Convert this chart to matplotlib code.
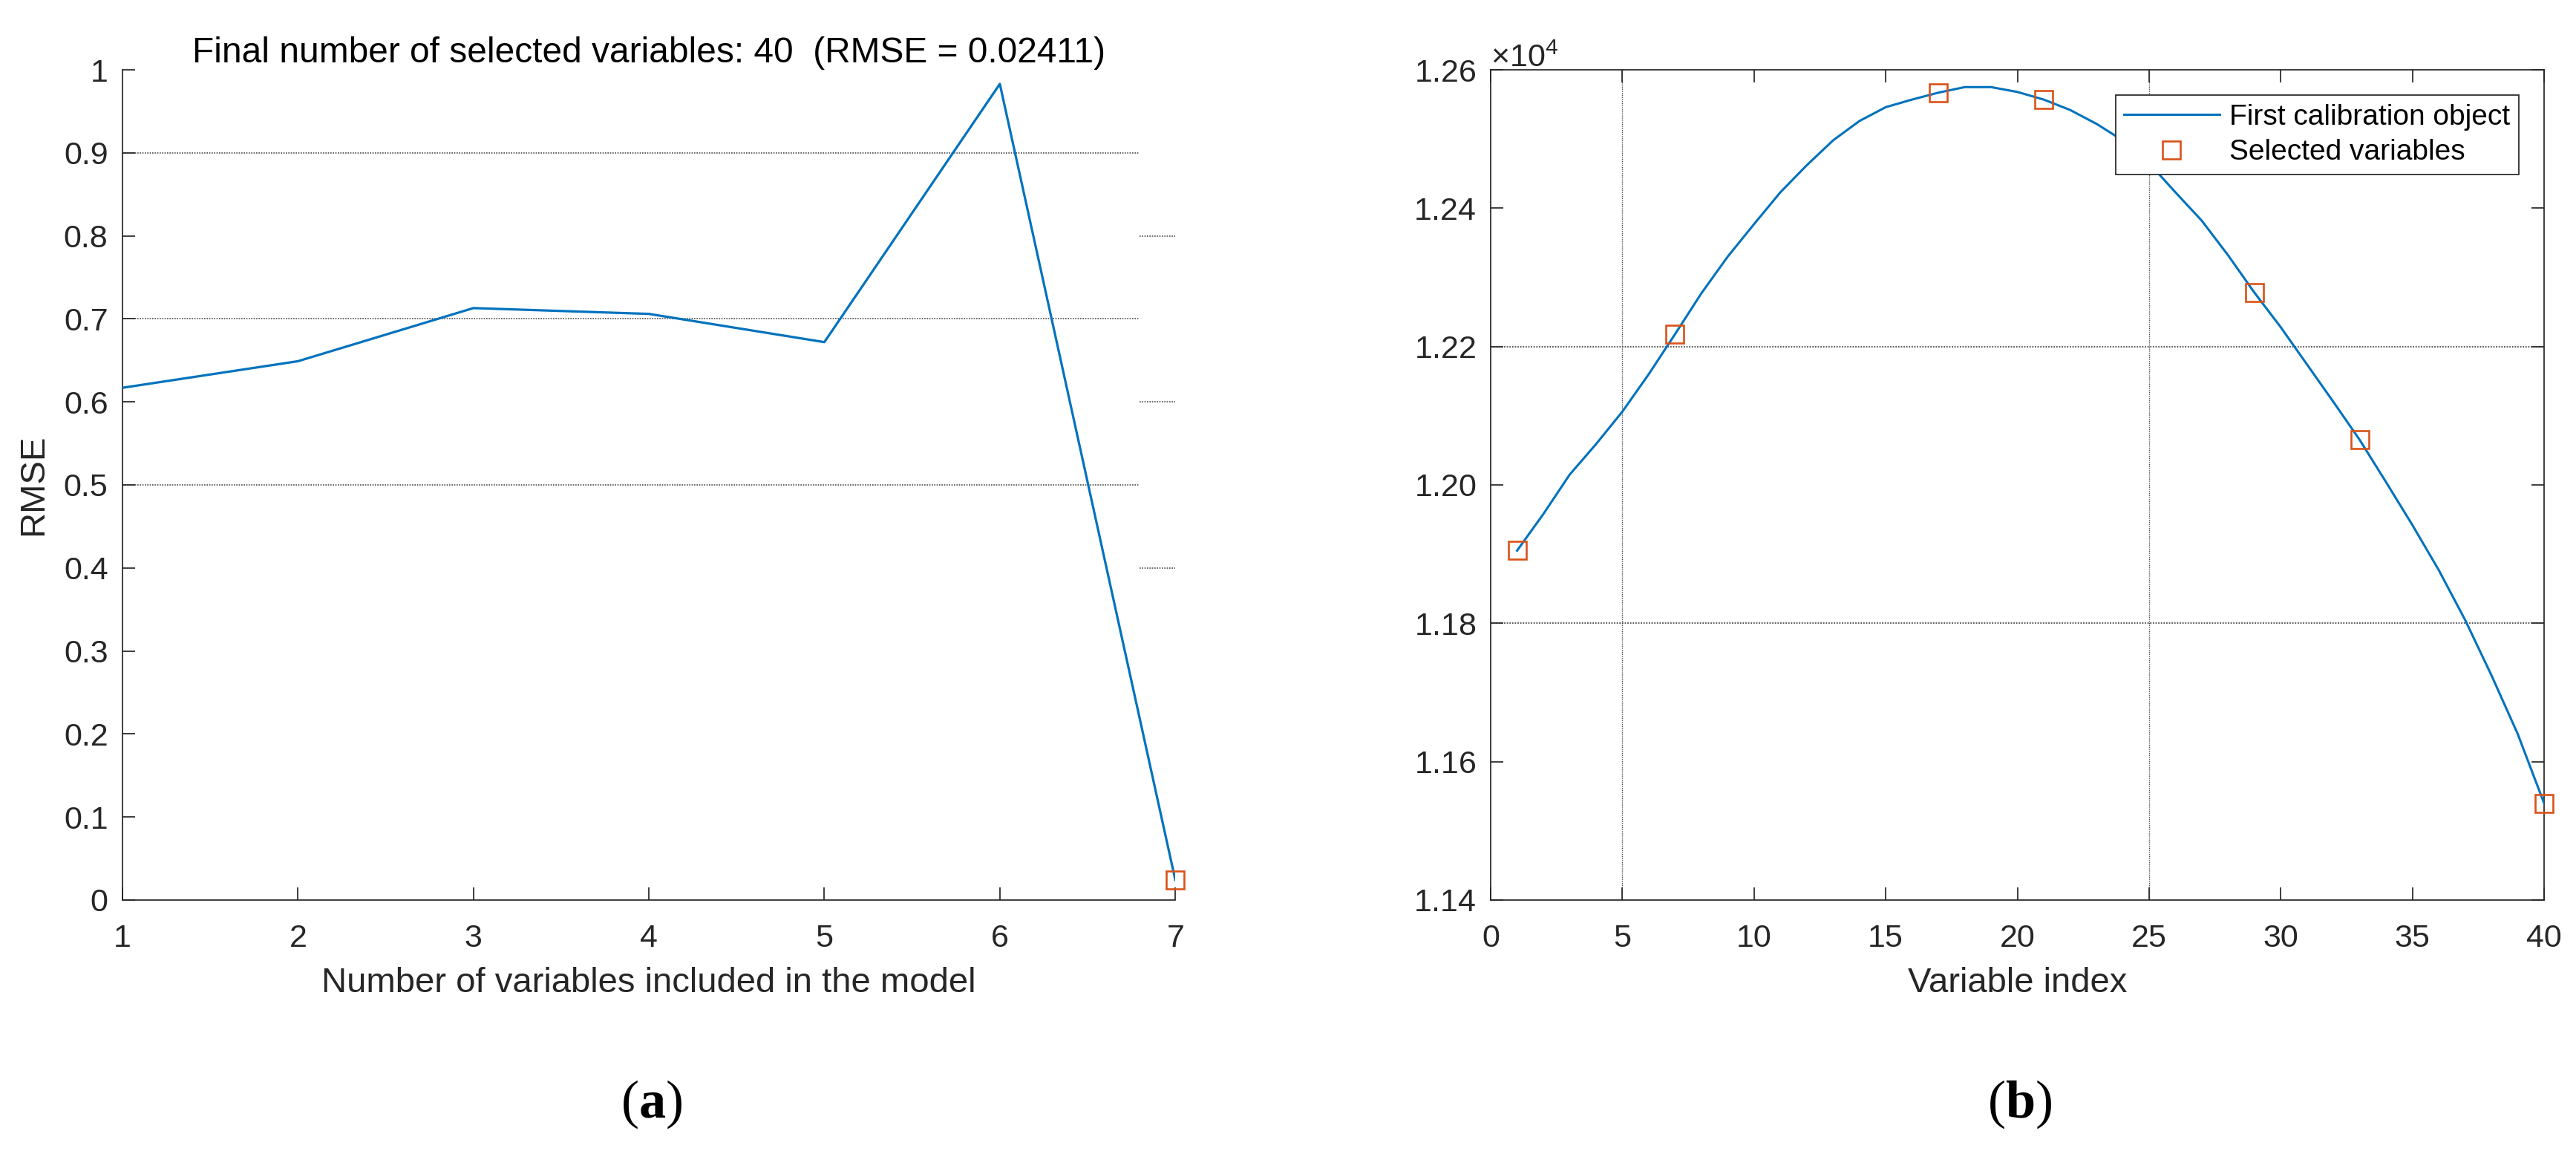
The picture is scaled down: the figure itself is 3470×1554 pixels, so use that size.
import matplotlib
matplotlib.use("Agg")
import matplotlib.pyplot as plt
from matplotlib.ticker import ScalarFormatter, FixedLocator

# ---------------- data ----------------
n_vars = [1, 2, 3, 4, 5, 6, 7]
rmse = [0.617, 0.649, 0.713, 0.706, 0.672, 0.983, 0.02411]
final_idx = [7]

var_index = list(range(1, 41))
calib = [11905, 11958, 12015, 12059, 12106, 12160, 12218, 12277, 12330, 12377,
         12423, 12462, 12498, 12526, 12546, 12557, 12567, 12575, 12575, 12568,
         12557, 12542, 12522, 12498, 12465, 12423, 12382, 12332, 12278, 12228,
         12174, 12120, 12065, 12004, 11942, 11877, 11805, 11725, 11640, 11540]
selected = [1, 7, 17, 21, 29, 33, 40]

left_xticks = [1, 2, 3, 4, 5, 6, 7]
left_yticks = [0, 0.1, 0.2, 0.3, 0.4, 0.5, 0.6, 0.7, 0.8, 0.9, 1.0]
left_yticklabels = ["0", "0.1", "0.2", "0.3", "0.4", "0.5", "0.6", "0.7", "0.8", "0.9", "1"]
left_grid_full = [0.5, 0.7, 0.9]
left_grid_stub = [0.4, 0.6, 0.8]

right_xticks = [0, 5, 10, 15, 20, 25, 30, 35, 40]
right_yticks = [11400, 11600, 11800, 12000, 12200, 12400, 12600]
right_vgrid = [5, 25]
right_hgrid = [11800, 12200]

title_text = "Final number of selected variables: 40  (RMSE = 0.02411)"
panel_letters = ['a', 'b']

# ---------------- style ----------------
plt.rcParams['font.family'] = ['Liberation Sans', 'DejaVu Sans']
plt.rcParams['mathtext.fontset'] = 'custom'
plt.rcParams['mathtext.rm'] = 'Liberation Sans'
plt.rcParams['mathtext.it'] = 'Liberation Sans:italic'
plt.rcParams['mathtext.bf'] = 'Liberation Serif:bold'

BLUE = '#0072BD'
ORANGE = '#D95319'
AXC = '#262626'
TICKFS = 31
LABFS = 34
SPW = 1.25

fig = plt.figure(figsize=(34.7, 15.54), dpi=100)

# ---------- left panel ----------
axL = fig.add_axes([0.04755, 0.2201, 0.4087, 0.7194])
axL.plot(n_vars, rmse, color=BLUE, lw=2.3, zorder=3)
axL.plot([n_vars[i - 1] for i in final_idx], [rmse[i - 1] for i in final_idx],
         linestyle='none', marker='s', markersize=17, markerfacecolor='none',
         markeredgecolor=ORANGE, markeredgewidth=1.9, clip_on=False, zorder=4)
axL.set_xlim(1, 7)
axL.set_ylim(0, 1)
axL.xaxis.set_major_locator(FixedLocator(left_xticks))
axL.set_yticks(left_yticks)
axL.set_yticklabels(left_yticklabels)
tr = axL.get_yaxis_transform()
axL.hlines(left_grid_full, 0, 0.966, transform=tr, colors='#4a4a4a',
           linestyles=(0, (1, 1)), lw=1.2, zorder=1)
axL.hlines(left_grid_stub, 0.966, 1.0, transform=tr, colors='#4a4a4a',
           linestyles=(0, (1, 1)), lw=1.2, zorder=1, clip_on=False)
for s in ['top', 'right']:
    axL.spines[s].set_visible(False)
for s in ['left', 'bottom']:
    axL.spines[s].set_linewidth(SPW)
    axL.spines[s].set_color(AXC)
axL.tick_params(axis='both', direction='in', length=12, width=SPW, color=AXC,
                labelsize=TICKFS, labelcolor=AXC)
axL.tick_params(axis='x', pad=23)
axL.tick_params(axis='y', pad=14)
axL.set_title(title_text, fontsize=34.5, pad=6, color='black')
axL.set_xlabel("Number of variables included in the model", fontsize=LABFS,
               color=AXC, va='center')
axL.xaxis.set_label_coords(0.5, -0.1002)
axL.set_ylabel("RMSE", fontsize=LABFS, color=AXC, va='center')
axL.yaxis.set_label_coords(-0.0846, 0.5)

# ---------- right panel ----------
axR = fig.add_axes([0.5787, 0.2201, 0.4089, 0.7194])
for v in right_vgrid:
    axR.axvline(v, color='#4a4a4a', linestyle=(0, (1, 1)), lw=1.0, zorder=1)
for h in right_hgrid:
    axR.axhline(h, color='#4a4a4a', linestyle=(0, (1, 1)), lw=1.3, zorder=1)
lineR, = axR.plot(var_index, calib, color=BLUE, lw=2.2, zorder=3,
                  label="First calibration object")
markR, = axR.plot(selected, [calib[i - 1] for i in selected], linestyle='none',
                  marker='s', markersize=17, markerfacecolor='none',
                  markeredgecolor=ORANGE, markeredgewidth=1.9, clip_on=False,
                  zorder=4, label="Selected variables")
axR.set_xlim(0, 40)
axR.set_ylim(11400, 12600)
axR.set_xticks(right_xticks)
axR.set_yticks(right_yticks)
fmt = ScalarFormatter(useMathText=True)
fmt.set_powerlimits((0, 0))
fmt.set_useOffset(False)
axR.yaxis.set_major_formatter(fmt)
off = axR.yaxis.get_offset_text()
off.set_fontsize(TICKFS)
off.set_color(AXC)
for s in axR.spines.values():
    s.set_linewidth(SPW)
    s.set_color(AXC)
axR.tick_params(axis='both', direction='in', length=12, width=SPW, color=AXC,
                labelsize=TICKFS, labelcolor=AXC, top=True, right=True)
axR.tick_params(axis='x', pad=23)
axR.tick_params(axis='y', pad=14)
axR.set_xlabel("Variable index", fontsize=LABFS, color=AXC, va='center')
axR.xaxis.set_label_coords(0.5, -0.1002)
leg = axR.legend(handles=[lineR, markR], loc='upper right',
                 bbox_to_anchor=(0.976, 0.9696), borderaxespad=0,
                 fontsize=28, frameon=True, fancybox=False, framealpha=1,
                 handlelength=3.3, handletextpad=0.35, borderpad=0.3,
                 labelspacing=0.3)
leg.get_frame().set_edgecolor(AXC)
leg.get_frame().set_linewidth(SPW)

# ---------- panel labels ----------
for xc, letter in zip([0.253, 0.784], panel_letters):
    fig.text(xc, 0.0431, "(" + r"$\mathbf{" + letter + "}$" + ")", fontsize=52,
             family=['Liberation Serif', 'DejaVu Serif'], ha='center', va='center',
             color='black', math_fontfamily='custom')

fig.savefig("out.png", dpi=100)
